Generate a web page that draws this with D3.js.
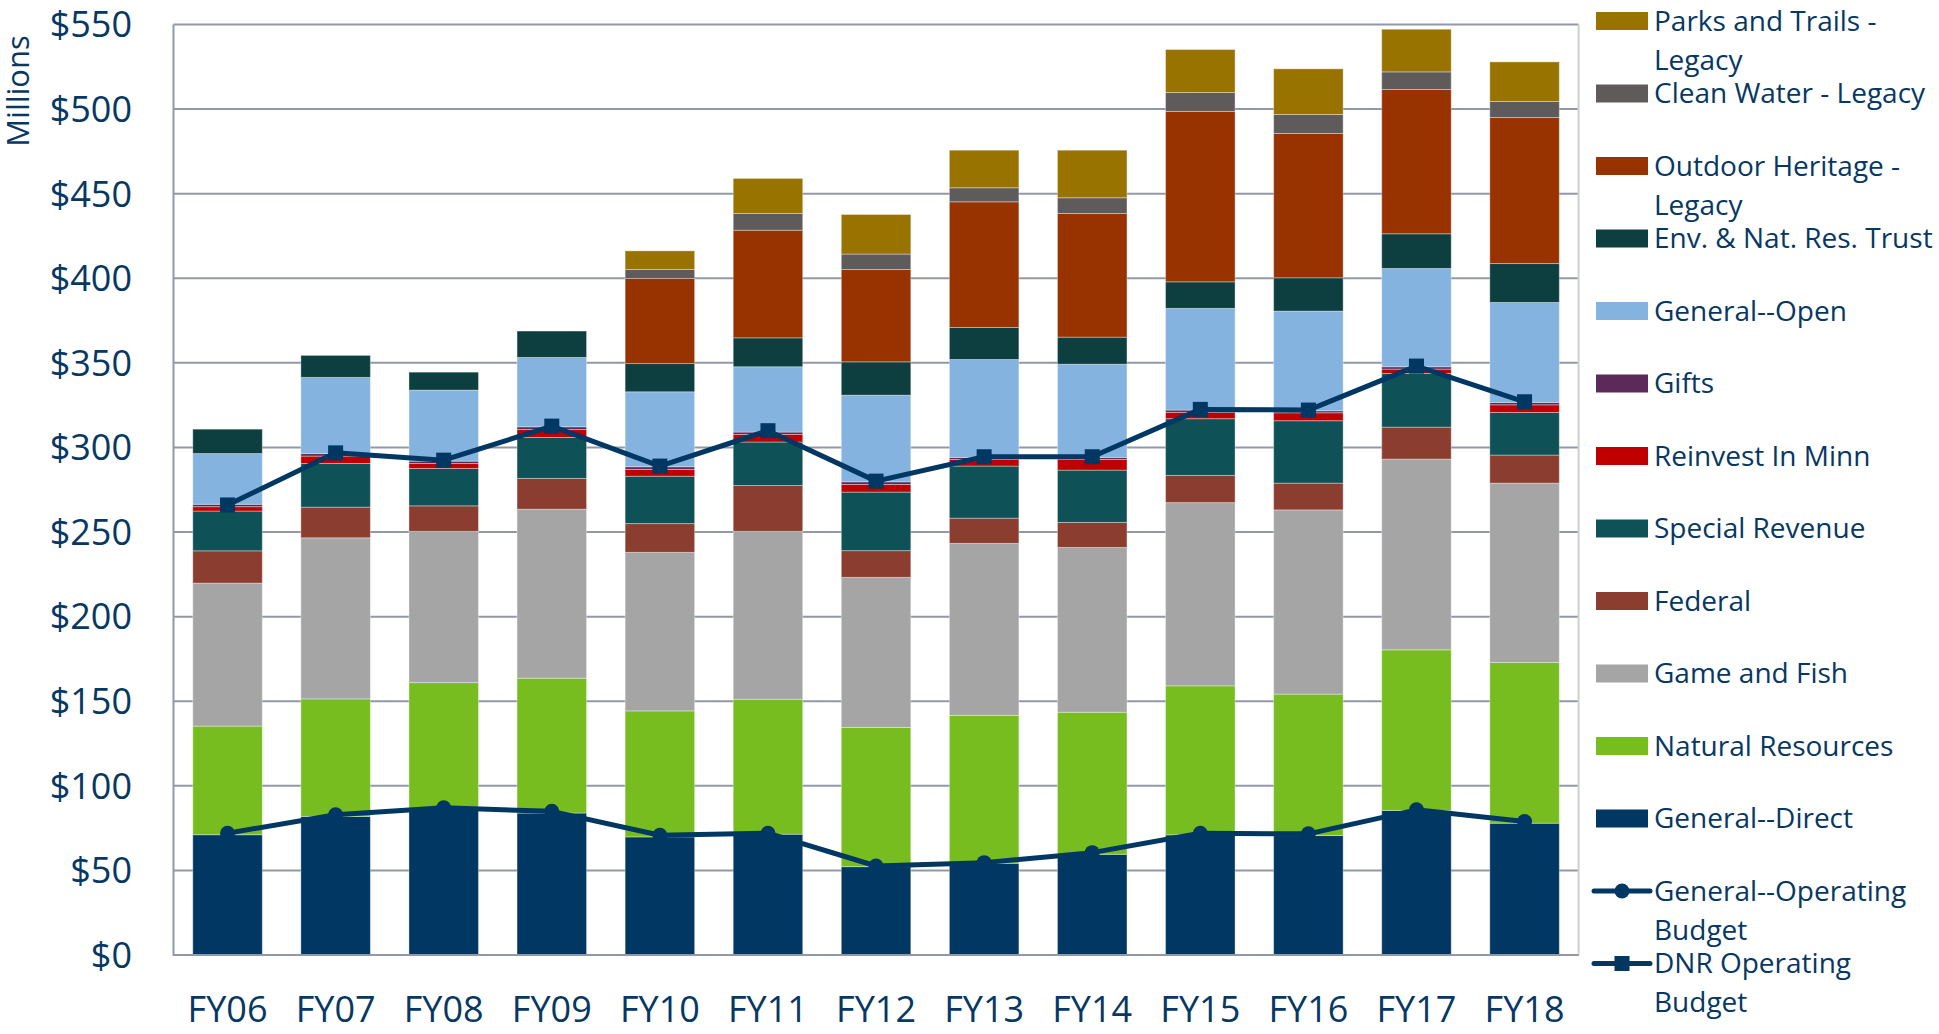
<!DOCTYPE html>
<html>
<head>
<meta charset="utf-8">
<script src="https://cdn.jsdelivr.net/npm/d3@7"></script>
<style>
  body { margin: 0; background: #fff; }
  text { font-family: "Open Sans", sans-serif; fill: #073763; }
</style>
</head>
<body>
<svg id="chart" width="1939" height="1034"></svg>
<script>
// Data (millions of dollars)
const years = ["FY06","FY07","FY08","FY09","FY10","FY11","FY12","FY13","FY14","FY15","FY16","FY17","FY18"];

const generalDirect   = [71.1, 81.9, 86.5, 83.9, 69.8, 71.4, 52.2, 54.2, 59.5, 71.0, 70.6, 85.4, 77.9];
const naturalRes      = [64.2, 69.5, 74.5, 79.7, 74.5, 79.8, 82.3, 87.4, 84.0, 88.1, 83.6, 95.0, 95.0];
const gameFish        = [84.5, 95.2, 89.4, 99.9, 93.7, 99.2, 88.7, 101.7, 97.4, 108.3, 108.9, 112.7, 106.0];
const federal         = [19.1, 18.1, 15.1, 18.2, 17.0, 27.1, 15.8, 14.9, 14.8, 16.1, 15.8, 18.9, 16.6];
const specialRevenue  = [23.5, 25.8, 22.1, 24.2, 28.0, 25.7, 34.6, 30.8, 30.9, 33.5, 36.9, 31.7, 25.2];
const reinvest        = [2.6, 4.4, 2.9, 4.7, 4.0, 4.5, 4.5, 3.9, 6.3, 3.7, 4.7, 2.6, 4.5];
const gifts           = [1.4, 1.5, 1.4, 1.6, 1.6, 1.4, 1.6, 1.2, 1.2, 1.4, 1.2, 1.4, 1.4];
const generalOpen     = [30.0, 45.0, 42.0, 41.0, 44.3, 38.6, 51.2, 57.9, 55.1, 60.1, 58.9, 58.1, 59.1];
const envTrust        = [14.4, 13.0, 10.6, 15.6, 16.7, 17.1, 19.7, 18.9, 16.0, 15.7, 19.7, 20.5, 23.0];
const outdoorHeritage = [0, 0, 0, 0, 50.3, 63.6, 54.6, 74.3, 73.1, 100.7, 85.3, 85.3, 86.3];
const cleanWater      = [0, 0, 0, 0, 5.3, 9.9, 9.1, 8.3, 9.3, 11.2, 11.2, 10.4, 9.5];
const parksTrails     = [0, 0, 0, 0, 11.0, 20.7, 23.4, 22.2, 28.1, 25.4, 27.0, 25.2, 23.4];

const generalOperating = [72.0, 82.9, 87.0, 84.9, 70.8, 72.0, 52.6, 54.6, 60.5, 72.0, 71.6, 85.8, 78.9];
const dnrOperating     = [266.0, 296.8, 292.5, 312.6, 289.0, 309.9, 280.1, 294.5, 294.5, 322.5, 322.1, 348.1, 327.0];

const yTicks = [0, 50, 100, 150, 200, 250, 300, 350, 400, 450, 500, 550];

// stack order bottom -> top
const series = [
  { key: "General--Direct", values: generalDirect, color: "#003763" },
  { key: "Natural Resources", values: naturalRes, color: "#78bd20" },
  { key: "Game and Fish", values: gameFish, color: "#a5a5a5" },
  { key: "Federal", values: federal, color: "#8b3e2f" },
  { key: "Special Revenue", values: specialRevenue, color: "#0e5257" },
  { key: "Reinvest In Minn", values: reinvest, color: "#c00000" },
  { key: "Gifts", values: gifts, color: "#5c2a5a" },
  { key: "General--Open", values: generalOpen, color: "#84b3df" },
  { key: "Env. & Nat. Res. Trust", values: envTrust, color: "#0d3e40" },
  { key: "Outdoor Heritage - Legacy", values: outdoorHeritage, color: "#983300" },
  { key: "Clean Water - Legacy", values: cleanWater, color: "#5f5b5b" },
  { key: "Parks and Trails - Legacy", values: parksTrails, color: "#997300" }
];

const svg = d3.select("#chart");
const navy = "#003763";

const x = d3.scaleBand()
  .domain(years)
  .range([173.5, 1578.6])
  .paddingInner(0.357)
  .paddingOuter(0.1785);

const y = d3.scaleLinear().domain([0, 550]).range([955, 24.5]);

// gridlines
svg.append("g")
  .selectAll("line")
  .data(yTicks)
  .join("line")
  .attr("x1", 173.5)
  .attr("x2", 1578.6)
  .attr("y1", d => y(d))
  .attr("y2", d => y(d))
  .attr("stroke", "#9298a6")
  .attr("stroke-width", 2);

// right border
svg.append("line")
  .attr("x1", 1578.6).attr("x2", 1578.6)
  .attr("y1", y(550)).attr("y2", y(0))
  .attr("stroke", "#cfcfcf").attr("stroke-width", 2);

// stacked bars
const table = years.map((yr, i) => {
  const row = { year: yr };
  series.forEach(s => { row[s.key] = s.values[i]; });
  return row;
});
const stack = d3.stack().keys(series.map(s => s.key));
const layers = stack(table);

svg.append("g")
  .selectAll("g")
  .data(layers)
  .join("g")
  .attr("fill", (d, i) => series[i].color)
  .selectAll("rect")
  .data(d => d)
  .join("rect")
  .attr("x", d => x(d.data.year))
  .attr("width", x.bandwidth())
  .attr("y", d => y(d[1]))
  .attr("height", d => Math.max(0, y(d[0]) - y(d[1])))
  .attr("stroke", "rgba(255,255,255,0.35)")
  .attr("stroke-width", 1);

// left axis & bottom axis lines
svg.append("line")
  .attr("x1", 173.5).attr("x2", 173.5)
  .attr("y1", y(550)).attr("y2", y(0) + 1)
  .attr("stroke", "#9298a6").attr("stroke-width", 2);
svg.append("line")
  .attr("x1", 173.5).attr("x2", 1578.6)
  .attr("y1", y(0)).attr("y2", y(0))
  .attr("stroke", "#9298a6").attr("stroke-width", 2);

// y tick labels
svg.append("g")
  .selectAll("text")
  .data(yTicks)
  .join("text")
  .attr("x", 132)
  .attr("y", d => y(d))
  .attr("dy", "0.357em")
  .attr("text-anchor", "end")
  .attr("font-size", 36)
  .text(d => "$" + d);

// y axis title
svg.append("text")
  .attr("transform", "translate(29,91) rotate(-90)")
  .attr("text-anchor", "middle")
  .attr("font-size", 31)
  .text("Millions");

// x labels
svg.append("g")
  .selectAll("text")
  .data(years)
  .join("text")
  .attr("x", d => x(d) + x.bandwidth() / 2)
  .attr("y", 1022)
  .attr("text-anchor", "middle")
  .attr("font-size", 36)
  .text(d => d);

// lines
const cx = i => x(years[i]) + x.bandwidth() / 2;
const line = d3.line().x((d, i) => cx(i)).y(d => y(d));

svg.append("path")
  .datum(generalOperating)
  .attr("d", line)
  .attr("fill", "none")
  .attr("stroke", navy)
  .attr("stroke-width", 5)
  .attr("stroke-linejoin", "round");
svg.append("g")
  .selectAll("circle")
  .data(generalOperating)
  .join("circle")
  .attr("cx", (d, i) => cx(i))
  .attr("cy", d => y(d))
  .attr("r", 7.5)
  .attr("fill", navy);

svg.append("path")
  .datum(dnrOperating)
  .attr("d", line)
  .attr("fill", "none")
  .attr("stroke", navy)
  .attr("stroke-width", 5)
  .attr("stroke-linejoin", "round");
svg.append("g")
  .selectAll("rect")
  .data(dnrOperating)
  .join("rect")
  .attr("x", (d, i) => cx(i) - 7.5)
  .attr("y", d => y(d) - 7.5)
  .attr("width", 15)
  .attr("height", 15)
  .attr("fill", navy);

// legend
const legendItems = [
  { label: ["Parks and Trails -", "Legacy"], color: "#997300" },
  { label: ["Clean Water - Legacy"], color: "#5f5b5b" },
  { label: ["Outdoor Heritage -", "Legacy"], color: "#983300" },
  { label: ["Env. & Nat. Res. Trust"], color: "#0d3e40" },
  { label: ["General--Open"], color: "#84b3df" },
  { label: ["Gifts"], color: "#5c2a5a" },
  { label: ["Reinvest In Minn"], color: "#c00000" },
  { label: ["Special Revenue"], color: "#0e5257" },
  { label: ["Federal"], color: "#8b3e2f" },
  { label: ["Game and Fish"], color: "#a5a5a5" },
  { label: ["Natural Resources"], color: "#78bd20" },
  { label: ["General--Direct"], color: "#003763" },
  { label: ["General--Operating", "Budget"], line: "circle" },
  { label: ["DNR Operating", "Budget"], line: "square" }
];

const legend = svg.append("g");
legendItems.forEach((item, i) => {
  const cy = 21 + i * 72.5;
  const g = legend.append("g");
  if (item.line) {
    g.append("line")
      .attr("x1", 1594).attr("x2", 1650)
      .attr("y1", cy).attr("y2", cy)
      .attr("stroke", navy).attr("stroke-width", 5)
      .attr("stroke-linecap", "round");
    if (item.line === "circle") {
      g.append("circle").attr("cx", 1622).attr("cy", cy).attr("r", 7.5).attr("fill", navy);
    } else {
      g.append("rect").attr("x", 1614.5).attr("y", cy - 7.5).attr("width", 15).attr("height", 15).attr("fill", navy);
    }
  } else {
    g.append("rect")
      .attr("x", 1596).attr("y", cy - 9)
      .attr("width", 52).attr("height", 18)
      .attr("fill", item.color);
  }
  const t = g.append("text")
    .attr("x", 1654)
    .attr("y", cy)
    .attr("font-size", 28);
  item.label.forEach((ln, j) => {
    t.append("tspan").attr("x", 1654).attr("dy", j === 0 ? "0.357em" : 39).text(ln);
  });
});
</script>
</body>
</html>
